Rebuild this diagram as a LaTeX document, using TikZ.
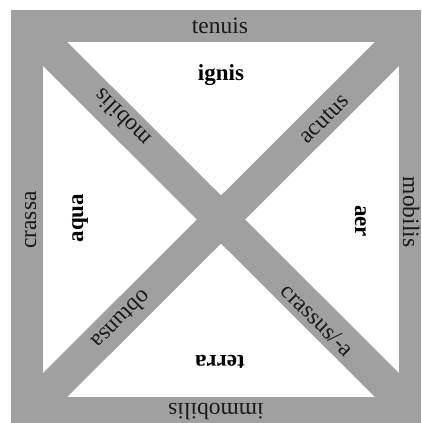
\documentclass[tikz,border=0pt]{standalone}
\usepackage{fontspec}
\setmainfont{Liberation Serif}
\definecolor{band}{RGB}{160,160,160}
\begin{document}
\begin{tikzpicture}[x=1pt,y=-1pt,
  striplabel/.style={font=\fontsize{23.5}{28}\selectfont, inner sep=0pt, text=black!90},
  element/.style={font=\fontsize{23}{28}\selectfont\bfseries, inner sep=0pt, text=black}]
\useasboundingbox (0,0) rectangle (421,423);
\fill[white] (0,0) rectangle (421,423);
\fill[band] (11,10) rectangle (421,423);
\fill[white] (43,42) rectangle (399,397);
\begin{scope}
  \clip (43,42) rectangle (399,397);
  \draw[band, line width=34pt] (13,12) -- (429,427);
  \draw[band, line width=34pt] (429,12) -- (13,427);
\end{scope}
% border labels
\node[striplabel, anchor=base] (tenuis) at (220,33) {tenuis};
\node[striplabel, anchor=base, rotate=180] (immobilis) at (216,403) {immobilis};
\node[striplabel, anchor=base, rotate=90] (crassa) at (36,220) {crassa};
\node[striplabel, anchor=base, rotate=-90] (mobilisR) at (403,212) {mobilis};
% diagonal labels
\node[striplabel, rotate=135] (mobilisD) at (122,118) {mobilis};
\node[striplabel, rotate=45] (acutus) at (324,119) {acutus};
\node[striplabel, rotate=225] (obtunsa) at (122,320) {obtunsa};
\node[striplabel, rotate=-45] (crassus) at (318,320) {crassus/-a};
% elements
\node[element, anchor=base] (ignis) at (221,80) {ignis};
\node[element, anchor=base, rotate=90] (aqua) at (83,218) {aqua};
\node[element, anchor=base, rotate=-90] (aer) at (355,221) {aer};
\node[element, anchor=base, rotate=180] (terra) at (220,355) {terra};
\end{tikzpicture}
\end{document}
